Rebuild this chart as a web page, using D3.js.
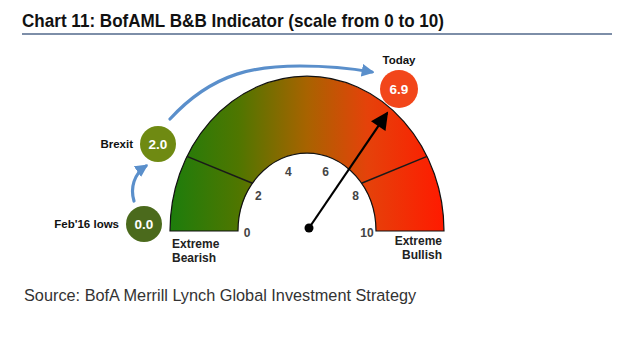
<!DOCTYPE html>
<html>
<head>
<meta charset="utf-8">
<script src="https://cdn.jsdelivr.net/npm/d3@7"></script>
<style>
  body { margin: 0; background: #fff; }
  text { font-family: "Liberation Sans", Arial, sans-serif; }
</style>
</head>
<body>
<svg id="chart" width="640" height="352"></svg>
<script>
// values
const tickValues = [0, 2, 4, 6, 8, 10];
const zoneBreaks = [1.6, 8.4];
const readings = ['Feb\'16 lows', 'Brexit', 'Today'];
const readingValues = [0.0, 2.0, 6.9];
const readingColors = ['#4b6a1c', '#6f8a12', '#f2461a'];
const todayValue = 6.9;

const svg = d3.select('#chart');
const cx = 307, cy = 231;
const rOuter = 137, rInner = 69, yStretch = 1.13;

// title
svg.append('text')
  .attr('x', 22).attr('y', 27)
  .attr('font-family', '"Liberation Sans Narrow", "Arial Narrow", sans-serif')
  .attr('font-size', 19).attr('font-weight', 'bold').attr('fill', '#111')
  .attr('textLength', 422).attr('lengthAdjust', 'spacingAndGlyphs')
  .text('Chart 11: BofAML B&B Indicator (scale from 0 to 10)');
svg.append('line')
  .attr('x1', 22).attr('x2', 612).attr('y1', 34).attr('y2', 34)
  .attr('stroke', '#7d8ea8').attr('stroke-width', 2);

const angle = d3.scaleLinear().domain([0, 10]).range([-Math.PI / 2, Math.PI / 2]);

const defs = svg.append('defs');
const grad = defs.append('linearGradient')
  .attr('id', 'gaugeGrad')
  .attr('gradientUnits', 'userSpaceOnUse')
  .attr('x1', -rOuter).attr('x2', rOuter).attr('y1', 0).attr('y2', 0);
[['0%', '#1d7d0c'], ['25%', '#4f7600'], ['50%', '#a86300'], ['72%', '#e5420a'], ['100%', '#ff1a00']]
  .forEach(([o, c]) => grad.append('stop').attr('offset', o).attr('stop-color', c));

const gauge = svg.append('g')
  .attr('transform', `translate(${cx},${cy}) scale(1,${yStretch})`);

const arc = d3.arc()
  .innerRadius(rInner)
  .outerRadius(rOuter)
  .startAngle(angle(0))
  .endAngle(angle(10));

gauge.append('path')
  .attr('d', arc())
  .attr('fill', 'url(#gaugeGrad)')
  .attr('stroke', '#111')
  .attr('stroke-width', 1.2)
  .attr('vector-effect', 'non-scaling-stroke');

gauge.selectAll('line.zone')
  .data(zoneBreaks)
  .join('line')
  .attr('class', 'zone')
  .attr('x1', (d) => rInner * Math.sin(angle(d < 5 ? d + 0.5 : d - 0.5)))
  .attr('y1', (d) => -rInner * Math.cos(angle(d < 5 ? d + 0.5 : d - 0.5)))
  .attr('x2', (d) => rOuter * Math.sin(angle(d)))
  .attr('y2', (d) => -rOuter * Math.cos(angle(d)))
  .attr('stroke', '#1a1a1a')
  .attr('stroke-width', 1.5)
  .attr('vector-effect', 'non-scaling-stroke');

// tick labels inside the gauge
svg.selectAll('text.tick')
  .data(tickValues)
  .join('text')
  .attr('class', 'tick')
  .attr('x', (d) => cx + 60 * Math.sin(angle(d)))
  .attr('y', (d) => cy + 2 - 64 * Math.cos(angle(d)))
  .attr('dy', '0.35em')
  .attr('text-anchor', 'middle')
  .attr('font-size', 12).attr('font-weight', 'bold').attr('fill', '#444')
  .text((d) => d);

// extreme labels
const extremeLeft = svg.append('text').attr('font-size', 12).attr('font-weight', 'bold').attr('fill', '#222');
extremeLeft.append('tspan').attr('x', 172).attr('y', 248).text('Extreme');
extremeLeft.append('tspan').attr('x', 172).attr('y', 262).text('Bearish');
const extremeRight = svg.append('text').attr('font-size', 12).attr('font-weight', 'bold').attr('fill', '#222')
  .attr('text-anchor', 'end');
extremeRight.append('tspan').attr('x', 442).attr('y', 245).text('Extreme');
extremeRight.append('tspan').attr('x', 442).attr('y', 259).text('Bullish');

// needle
const nx = 309, ny = 228, needleLen = 139;
const a = angle(todayValue);
const tipX = nx + needleLen * Math.sin(a);
const tipY = ny - needleLen * Math.cos(a);
defs.append('marker')
  .attr('id', 'needleHead')
  .attr('viewBox', '0 0 10 10')
  .attr('refX', 9).attr('refY', 5)
  .attr('markerWidth', 9).attr('markerHeight', 8)
  .attr('markerUnits', 'strokeWidth')
  .attr('orient', 'auto')
  .append('path').attr('d', 'M0,0L10,5L0,10Z').attr('fill', '#000');
svg.append('line')
  .attr('x1', nx).attr('y1', ny).attr('x2', tipX).attr('y2', tipY)
  .attr('stroke', '#000').attr('stroke-width', 2.2)
  .attr('marker-end', 'url(#needleHead)');
svg.append('circle').attr('cx', nx).attr('cy', ny).attr('r', 4.5).attr('fill', '#000');

// blue progress arrows
defs.append('marker')
  .attr('id', 'blueHead')
  .attr('viewBox', '0 0 10 10')
  .attr('refX', 8).attr('refY', 5)
  .attr('markerWidth', 4).attr('markerHeight', 4)
  .attr('markerUnits', 'strokeWidth')
  .attr('orient', 'auto')
  .append('path').attr('d', 'M0,0L10,5L0,10Z').attr('fill', '#5a8fcb');
svg.append('path')
  .attr('d', 'M134,201 C130,188 134,174 146,166')
  .attr('fill', 'none').attr('stroke', '#5a8fcb').attr('stroke-width', 3.2)
  .attr('stroke-linecap', 'round')
  .attr('marker-end', 'url(#blueHead)');
svg.append('path')
  .attr('d', 'M170,119 C215,70 260,66 300,66 C335,66 355,69 372,72')
  .attr('fill', 'none').attr('stroke', '#5a8fcb').attr('stroke-width', 3.2)
  .attr('stroke-linecap', 'round')
  .attr('marker-end', 'url(#blueHead)');

// reading bubbles
const bubblePos = [[144, 224, 18], [158, 144, 18], [399, 89, 19]];
const bubbles = svg.selectAll('g.bubble')
  .data(readings)
  .join('g')
  .attr('class', 'bubble')
  .attr('transform', (d, i) => `translate(${bubblePos[i][0]},${bubblePos[i][1]})`);
bubbles.append('circle')
  .attr('r', (d, i) => bubblePos[i][2])
  .attr('fill', (d, i) => readingColors[i]);
bubbles.append('text')
  .attr('text-anchor', 'middle').attr('dy', '0.36em')
  .attr('font-size', 13.5).attr('font-weight', 'bold').attr('fill', '#fff')
  .text((d, i) => readingValues[i].toFixed(1));
bubbles.append('text')
  .attr('text-anchor', (d, i) => (i === 2 ? 'middle' : 'end'))
  .attr('x', (d, i) => (i === 2 ? 0 : -25))
  .attr('y', (d, i) => (i === 2 ? -29 : 0))
  .attr('dy', '0.35em')
  .attr('font-size', 11.5).attr('font-weight', 'bold').attr('fill', '#111')
  .text((d) => d);

// source
svg.append('text')
  .attr('x', 24).attr('y', 301)
  .attr('font-size', 16.3).attr('fill', '#333')
  .text('Source: BofA Merrill Lynch Global Investment Strategy');
</script>
</body>
</html>
